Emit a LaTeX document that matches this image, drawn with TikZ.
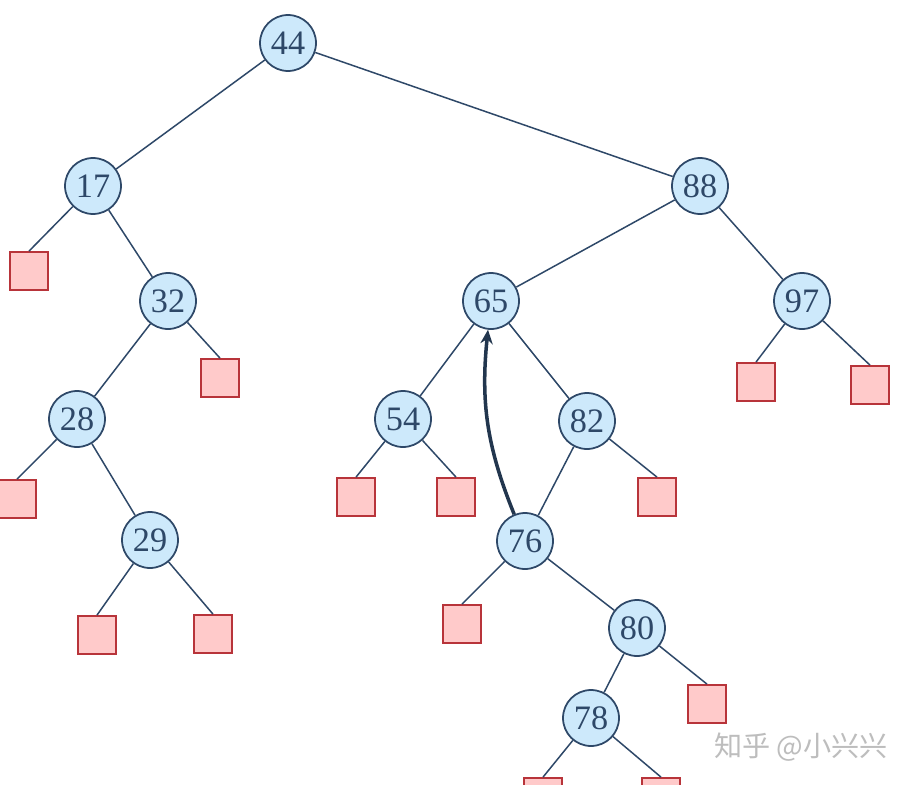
\documentclass[tikz,border=0pt]{standalone}
\usepackage{fontspec}
\setmainfont{Liberation Serif}
\newfontfamily\cjkfont{Noto Sans CJK SC}
\usetikzlibrary{arrows.meta}
\definecolor{nodeblue}{HTML}{CDE9FB}
\definecolor{nodeline}{HTML}{2E4868}
\definecolor{leafpink}{HTML}{FFCACA}
\definecolor{leafline}{HTML}{B8343A}
\definecolor{markgray}{HTML}{BDBDBD}
\tikzset{
  key/.style={circle, draw=nodeline, fill=nodeblue, line width=1pt,
    minimum size=1.12cm, inner sep=0pt, text=nodeline, font=\fontsize{19.5}{19.5}\selectfont},
  leaf/.style={rectangle, draw=leafline, fill=leafpink, line width=1pt,
    minimum size=0.76cm, inner sep=0pt},
  branch/.style={draw=nodeline, line width=0.85pt},
  rotation/.style={draw=nodeline!75!black, line width=2pt, -{Stealth[length=8pt,width=7pt]}}
}
\begin{document}
\begin{tikzpicture}[x=0.02cm,y=-0.02cm]
      \useasboundingbox (0,0) rectangle (909,784);
      \clip (0,0) rectangle (909,784);
      \fill[white] (0,0) rectangle (909,784);
      % keys
      \path
        (288,43) node[key] (44){44}
        (93,186) node[key] (17){17}
        (700,186) node[key] (88){88}
        (168,301) node[key] (32){32}
        (491,301) node[key] (65){65}
        (802,301) node[key] (97){97}
        (77,419) node[key] (28){28}
        (403,419) node[key] (54){54}
        (587,421) node[key] (82){82}
        (150,540) node[key] (29){29}
        (525,541) node[key] (76){76}
        (637,628) node[key] (80){80}
        (591,718) node[key] (78){78};
      % empty leaves
      \path
        (29,271) node[leaf] (17l){}
        (220,378) node[leaf] (32r){}
        (17,499) node[leaf] (28l){}
        (97,635) node[leaf] (29l){}
        (213,634) node[leaf] (29r){}
        (356,497) node[leaf] (54l){}
        (456,497) node[leaf] (54r){}
        (657,497) node[leaf] (82r){}
        (462,624) node[leaf] (76l){}
        (707,704) node[leaf] (80r){}
        (543,797) node[leaf] (78l){}
        (661,797) node[leaf] (78r){}
        (756,382) node[leaf] (97l){}
        (870,385) node[leaf] (97r){};
      \begin{scope}[branch]
        \draw (44) to (17);
        \draw (44) to (88);
        \draw (17) to (17l.north);
        \draw (17) to (32);
        \draw (32) to (28);
        \draw (32) to (32r.north);
        \draw (28) to (28l.north);
        \draw (28) to (29);
        \draw (29) to (29l.north);
        \draw (29) to (29r.north);
        \draw (88) to (65);
        \draw (88) to (97);
        \draw (65) to (54);
        \draw (65) to (82);
        \draw (54) to (54l.north);
        \draw (54) to (54r.north);
        \draw (82) to (76);
        \draw (82) to (82r.north);
        \draw (76) to (76l.north);
        \draw (76) to (80);
        \draw (80) to (78);
        \draw (80) to (80r.north);
        \draw (78) to (78l.north);
        \draw (78) to (78r.north);
        \draw (97) to (97l.north);
        \draw (97) to (97r.north);
      \end{scope}
      \draw[rotation] (76) to[bend left=14] (65);
      \node[text=markgray, font=\cjkfont\fontsize{16}{16}\selectfont] (mark) at (801,747) {知乎 @小兴兴};
    \end{tikzpicture}
\end{document}
